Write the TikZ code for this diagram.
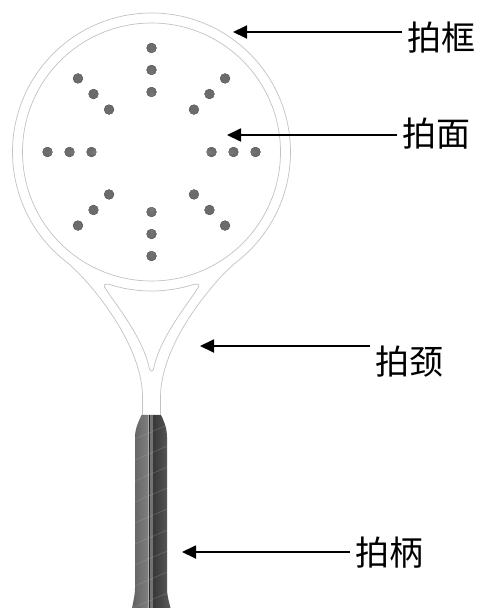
\documentclass[tikz,border=0pt]{standalone}
\usepackage{fontspec}
\newfontfamily\cjk{Noto Sans CJK SC}
\usetikzlibrary{arrows.meta}

\tikzset{
  frame/.style={draw=black!24, line width=0.7pt},
  hole/.style={shading=radial, inner color=black!38, outer color=black!58},
  ptr/.style={-{Triangle[length=14pt,width=13pt]}, line width=1.8pt},
  lbl/.style={anchor=west, inner xsep=5pt, inner ysep=0pt, font=\cjk\fontsize{34}{34}\selectfont},
}

\begin{document}
\begin{tikzpicture}[x=1pt, y=-1pt]
    \useasboundingbox (0,0) rectangle (482,608);

    % HEAD: outer rim running down into the neck
    \draw[frame] (151.5,152) ++(128:139) arc[start angle=128, end angle=412, radius=139]
        .. controls (217.4,276.9) and (162,340) .. (160.5,395) -- (160.5,415)
        -- (142.5,415) -- (142.5,395) .. controls (141,340) and (85.6,276.9) .. cycle;
    % inner rim
    \draw[frame] (151.5,152) circle[radius=129];
    % throat opening
    \draw[frame] (108.5,284.2) arc[start angle=108, end angle=72, radius=139]
        .. controls (199,283.8) and (200,285.5) .. (198.5,287)
        .. controls (191,300) and (161,335) .. (154,367)
        .. controls (153.2,372.5) and (149.8,372.5) .. (149,367)
        .. controls (142,335) and (112,300) .. (104.5,287)
        .. controls (103,285.5) and (104,283.8) .. cycle;

    % holes on the face, 8 rays of 3
    \foreach \a in {0,45,...,315}
        \foreach \r in {60,82,104}
            \fill[hole] (151.5,152) ++(\a:\r) circle[radius=5];

    % HANDLE: light left half, groove, dark right half
    \path[left color=black!62, middle color=black!38, right color=black!50]
        (141.5,415) -- (148.5,415) -- (148.5,608) -- (132,608)
        .. controls (134,598) and (135,594) .. (135,588) -- (135,437)
        .. controls (135,428) and (139,421) .. cycle;
    \fill[black!85] (148.5,415) rectangle (150.2,608);
    \fill[black!55] (150.2,415) rectangle (153,608);
    \path[left color=black!78, right color=black!64]
        (153,415) -- (161,415) .. controls (164,421) and (167,428) .. (167,437)
        -- (167,588) .. controls (167,594) and (168,598) .. (170.5,608)
        -- (153,608) -- cycle;
    % grip wrap
    \begin{scope}
        \clip (141.5,415) -- (161,415) .. controls (164,421) and (167,428) .. (167,437)
            -- (167,588) .. controls (167,594) and (168,598) .. (170.5,608)
            -- (132,608) .. controls (134,598) and (135,594) .. (135,588) -- (135,437)
            .. controls (135,428) and (139,421) .. cycle;
        \foreach \y in {432,453,...,620}
            \draw[black!30, opacity=0.3, line width=0.6pt] (130,\y+9) -- (172,\y-9);
    \end{scope}

    % LABELS
    \coordinate (kuang-tip) at (233,32);
    \coordinate (mian-tip) at (227,135);
    \coordinate (jing-tip) at (200,346);
    \coordinate (bing-tip) at (182,552);
    \node[lbl] (kuang) at (402,38) {拍框};
    \node[lbl] (mian) at (397,134) {拍面};
    \node[lbl] (jing) at (370,362) {拍颈};
    \node[lbl] (bing) at (350,553) {拍柄};
    \draw[ptr] (kuang.west |- kuang-tip) -- (kuang-tip);
    \draw[ptr] (mian.west |- mian-tip) -- (mian-tip);
    \draw[ptr] (jing.west |- jing-tip) -- (jing-tip);
    \draw[ptr] (bing.west |- bing-tip) -- (bing-tip);
\end{tikzpicture}
\end{document}
